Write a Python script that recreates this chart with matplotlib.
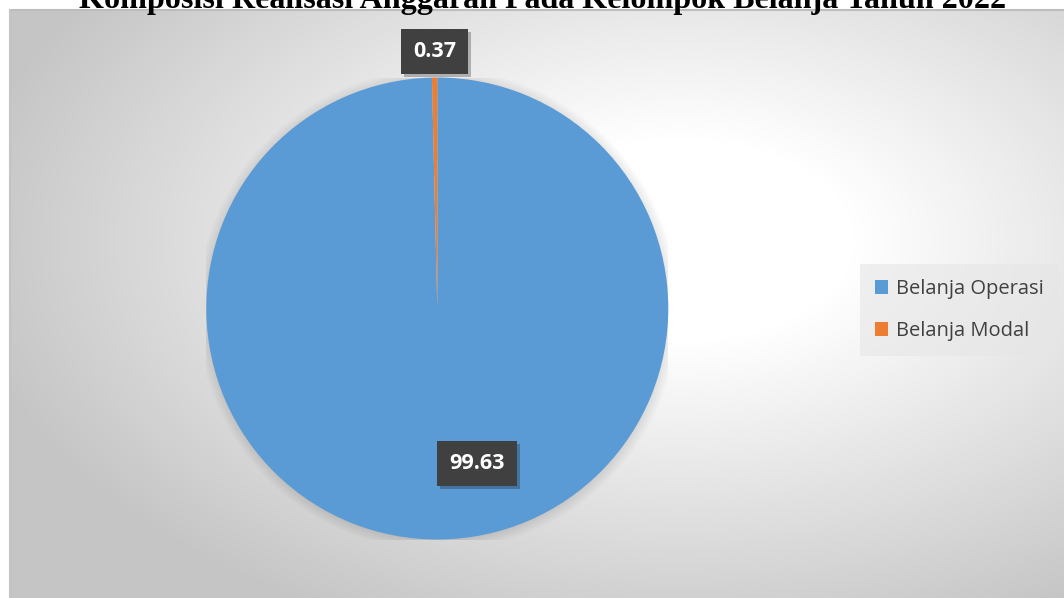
import numpy as np
import matplotlib
matplotlib.use('Agg')
import matplotlib.pyplot as plt
from matplotlib.patches import Circle
from matplotlib.transforms import offset_copy

# data
categories = ['Belanja Operasi', 'Belanja Modal']
values = [99.63, 0.37]
colors = ['#5B9BD5', '#ED7D31']
title = 'Komposisi Realisasi Anggaran Pada Kelompok Belanja Tahun 2022'

W, H = 1064, 598
fig = plt.figure(figsize=(W / 100, H / 100), dpi=100)
fig.patch.set_facecolor('white')

# chart area with radial gradient background
px0, py0 = 10, 10  # panel top-left in pixels
bg = fig.add_axes([px0 / W, 0, (W - px0) / W, (H - py0) / H])
bg.set_axis_off()
yy, xx = np.mgrid[py0:H, px0:W].astype(float)
cx, cy = 680, 240
d = np.sqrt(((xx - cx) / 580) ** 2 + ((yy - cy) / 340) ** 2)
v = 255 - 58 * np.clip((d - 0.3) / 0.95, 0, 1)
img = np.dstack([v, v, v]) / 255.0
bg.imshow(img, aspect='auto', extent=[0, 1, 0, 1], interpolation='bilinear')
bg.set_xlim(0, 1)
bg.set_ylim(0, 1)
bg.plot([0, 1], [1, 1], color='#bdbdbd', lw=1.5, transform=bg.transAxes, clip_on=False)
bg.plot([0, 0], [0, 1], color='#c4c4c4', lw=1.5, transform=bg.transAxes, clip_on=False)

# title (cut off at top as in the source)
fig.text(543 / W, 1 - 8 / H, title, ha='center', va='baseline',
         fontsize=23.1, fontweight='bold', family='Liberation Serif', color='black')

# pie axes
pcx, pcy, r = 437.3, 308.5, 231
ax = fig.add_axes([(pcx - r) / W, (H - pcy - r) / H, 2 * r / W, 2 * r / H])
ax.set_axis_off()

# soft shadow around pie
for k in range(8):
    ax.add_patch(Circle((0.003, -0.005), 1.0 + k * 0.006, color='black', alpha=0.012, lw=0, zorder=0))

wedges, _ = ax.pie(values, colors=colors, startangle=90, counterclock=False,
                   radius=1, wedgeprops=dict(linewidth=0))
for w in wedges:
    w.set_zorder(2)
ax.set_xlim(-1, 1)
ax.set_ylim(-1, 1)

# data labels
label_pos = [(0.172, -0.671), (-0.012, 1.112)]
for val, (lx, ly) in zip(values, label_pos):
    shadow_tr = offset_copy(ax.transData, fig=fig, x=3, y=-3, units='dots')
    ax.text(lx, ly, f'{val:.2f}', transform=shadow_tr, ha='center', va='center',
            fontsize=15.5, fontweight='bold', family='Open Sans', color='none', zorder=4,
            bbox=dict(boxstyle='square,pad=0.55', fc='black', ec='none', alpha=0.25))
    ax.text(lx, ly, f'{val:.2f}', ha='center', va='center',
            fontsize=15.5, fontweight='bold', family='Open Sans', color='white', zorder=5,
            bbox=dict(boxstyle='square,pad=0.55', fc='#404040', ec='none'))

# legend
leg = fig.legend(wedges, categories, loc='center left',
                 bbox_to_anchor=(860 / W, 1 - 310 / H),
                 frameon=True, fancybox=False,
                 prop=dict(family='Open Sans', size=14.5),
                 handlelength=0.65, handleheight=0.65, handletextpad=0.4,
                 labelspacing=1.1, borderpad=0.75, borderaxespad=0)
leg.get_frame().set_facecolor('#e6e6e6')
leg.get_frame().set_alpha(0.6)
leg.get_frame().set_edgecolor('none')
for t in leg.get_texts():
    t.set_color('#404040')

fig.savefig('out.png', dpi=100)
